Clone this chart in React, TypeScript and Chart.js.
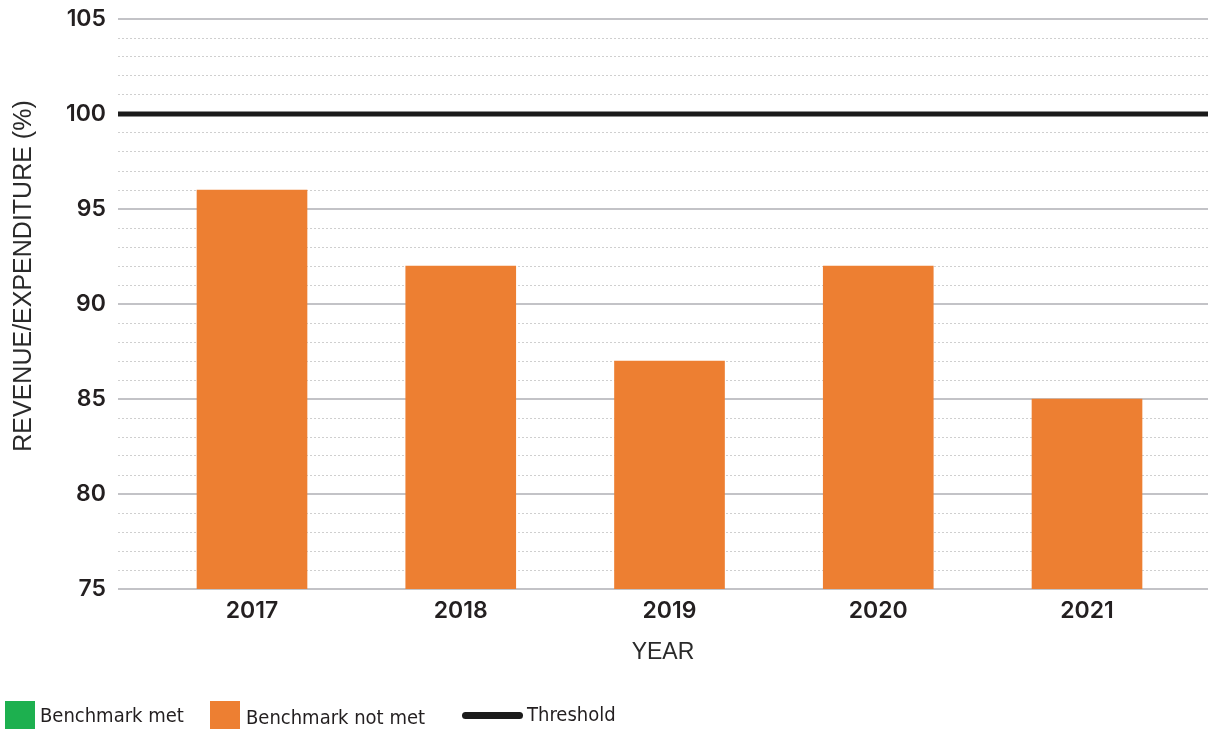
import React, { useEffect, useRef } from "react";
import { Chart, registerables } from "chart.js";

Chart.register(...registerables);

const YEARS = ["2017", "2018", "2019", "2020", "2021"];
const RATIOS = [96, 92, 87, 92, 85];
const THRESHOLD = 100;
const Y_MIN = 75;
const Y_MAX = 105;
const X_MIN = -0.6419;
const X_MAX = 4.5796;
const Y_TITLE = "REVENUE/EXPENDITURE (%)";
const X_TITLE = "YEAR";

const ORANGE = "#ED7F32";
const GREEN = "#1DB04F";
const NUM_FONT = "Inter, 'Open Sans', sans-serif";
const LIGHT_FONT = "'Liberation Sans', Arial, sans-serif";
const LEGEND_FONT = "'DejaVu Sans Condensed', 'Liberation Sans Narrow', sans-serif";

const yTitlePlugin = {
  id: "yTitlePlugin",
  afterDraw(chart: any) {
    const { ctx } = chart;
    ctx.save();
    ctx.translate(24, 276);
    ctx.rotate(-Math.PI / 2);
    ctx.font = `400 25px ${LIGHT_FONT}`;
    ctx.fillStyle = "#2a2a2a";
    ctx.textAlign = "center";
    ctx.textBaseline = "middle";
    ctx.fillText(Y_TITLE, 0, 0);
    ctx.restore();
  },
};

export default function App() {
  const ref = useRef<HTMLCanvasElement | null>(null);

  useEffect(() => {
    if (!ref.current) return;
    const chart = new Chart(ref.current, {
      type: "bar",
      data: {
        datasets: [
          {
            type: "line",
            label: "Threshold",
            data: [
              { x: X_MIN, y: THRESHOLD },
              { x: X_MAX, y: THRESHOLD },
            ],
            borderColor: "#1b1b1b",
            borderWidth: 5,
            borderCapStyle: "round",
            pointRadius: 0,
            order: 0,
          } as any,
          {
            type: "bar",
            label: "Benchmark not met",
            data: RATIOS.map((v, i) => ({ x: i, y: v })),
            backgroundColor: ORANGE,
            barThickness: 110,
            order: 1,
          } as any,
        ],
      },
      plugins: [yTitlePlugin],
      options: {
        animation: false,
        responsive: false,
        maintainAspectRatio: false,
        layout: { padding: { top: 19, right: 0, left: 0, bottom: 0 } },
        plugins: { legend: { display: false }, tooltip: { enabled: false } },
        scales: {
          x: {
            type: "linear",
            min: X_MIN,
            max: X_MAX,
            offset: false,
            grid: { display: false, drawTicks: false },
            border: { display: false },
            afterBuildTicks: (axis: any) => {
              axis.ticks = YEARS.map((_, i) => ({ value: i }));
            },
            afterFit: (scale: any) => {
              scale.height = 91;
              scale.paddingLeft = 0;
              scale.paddingRight = 0;
            },
            ticks: {
              autoSkip: false,
              maxRotation: 0,
              padding: 8,
              color: "#231f20",
              font: { family: NUM_FONT, size: 23, weight: "600" },
              callback: (v: any) => YEARS[v as number] ?? "",
            },
            title: {
              display: true,
              text: X_TITLE,
              color: "#2a2a2a",
              font: { family: LIGHT_FONT, size: 23, weight: "400" },
              padding: { top: 0, bottom: 14 },
            },
          },
          y: {
            min: Y_MIN,
            max: Y_MAX,
            afterFit: (scale: any) => {
              scale.width = 118;
              scale.paddingTop = 0;
              scale.paddingBottom = 0;
            },
            grid: {
              drawTicks: false,
              color: (ctx: any) =>
                ctx.tick && ctx.tick.value % 5 === 0 ? "#c3c3c7" : "#cfcfcf",
              lineWidth: (ctx: any) =>
                ctx.tick && ctx.tick.value % 5 === 0 ? 2 : 1,
            },
            border: {
              display: false,
              dash: (ctx: any) =>
                ctx.tick && ctx.tick.value % 5 === 0 ? [] : [2, 2],
            } as any,
            ticks: {
              stepSize: 1,
              autoSkip: false,
              padding: 12,
              color: "#231f20",
              font: { family: NUM_FONT, size: 23, weight: "600" },
              callback: (v: any) => (Number(v) % 5 === 0 ? String(v) : ""),
            },
            title: { display: false },
          },
        },
      } as any,
    });
    return () => chart.destroy();
  }, []);

  const textStyle: React.CSSProperties = {
    position: "absolute",
    fontFamily: LEGEND_FONT,
    fontSize: 20,
    color: "#231f20",
    lineHeight: "26px",
    whiteSpace: "nowrap",
  };

  return (
    <div style={{ position: "fixed", left: 0, top: 0, width: 1208, height: 729, background: "#fff" }}>
      <canvas ref={ref} width={1208} height={680} style={{ position: "absolute", left: 0, top: 0, width: 1208, height: 680 }} />
      <div style={{ position: "absolute", left: 5, top: 701, width: 30, height: 28, background: GREEN }} />
      <div style={{ ...textStyle, left: 40, top: 702 }}>Benchmark met</div>
      <div style={{ position: "absolute", left: 210, top: 701, width: 30, height: 28, background: ORANGE }} />
      <div style={{ ...textStyle, left: 246, top: 704 }}>Benchmark not met</div>
      <div style={{ position: "absolute", left: 462, top: 712, width: 61, height: 7, borderRadius: 4, background: "#1b1b1b" }} />
      <div style={{ ...textStyle, left: 527, top: 701 }}>Threshold</div>
    </div>
  );
}
